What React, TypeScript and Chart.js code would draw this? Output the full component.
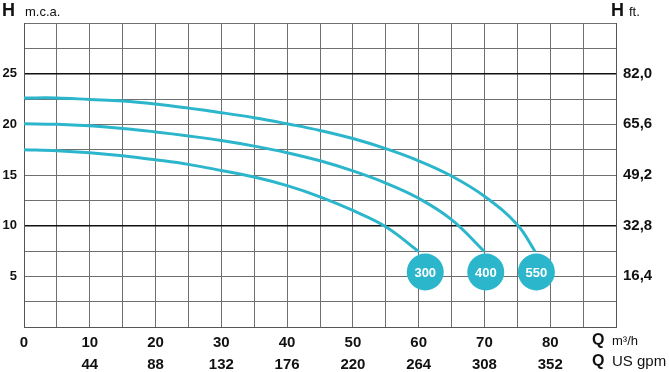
import React, { useEffect, useRef } from "react";
import { Chart, registerables } from "chart.js";

Chart.register(...registerables);

// Flow (m³/h) tick values with their US gpm equivalents
const flowTicks = [0, 10, 20, 30, 40, 50, 60, 70, 80];
const gpmLabels = ["", "44", "88", "132", "176", "220", "264", "308", "352"];
// Head tick values (m.c.a.) and feet equivalents
const headTicks = [5, 10, 15, 20, 25];
const ftLabels = ["16,4", "32,8", "49,2", "65,6", "82,0"];

// Pump curves (Q m³/h, H m)
const q550 = [0, 5, 10, 15, 20, 25, 30, 35, 40, 45, 50, 55, 60, 65, 70, 75, 77.7];
const h550 = [22.6, 22.6, 22.45, 22.3, 22.0, 21.6, 21.15, 20.65, 20.05, 19.4, 18.6, 17.6, 16.4, 14.9, 12.9, 10.1, 7.45];
const q400 = [0, 5, 10, 15, 20, 25, 30, 35, 40, 45, 50, 55, 60, 65, 70];
const h400 = [20.05, 20.0, 19.85, 19.6, 19.25, 18.85, 18.4, 17.85, 17.2, 16.4, 15.4, 14.2, 12.7, 10.6, 7.45];
const q300 = [0, 5, 10, 15, 20, 25, 30, 35, 40, 45, 50, 55, 60];
const h300 = [17.5, 17.4, 17.2, 16.9, 16.5, 16.05, 15.45, 14.8, 13.95, 12.85, 11.5, 9.9, 7.45];

// Model badges
const badgeLabels = ["300", "400", "550"];
const badgeQ = [61, 70.2, 77.9];
const badgeH = [5.43, 5.43, 5.43];

const TEAL = "#2cb6cc";

const zip = (xs: number[], ys: number[]) => xs.map((x, i) => ({ x, y: ys[i] }));

const extraText = {
  id: "extraText",
  afterDraw(chart: any) {
    const ctx = chart.ctx;
    ctx.save();
    ctx.fillStyle = "#111";
    ctx.textBaseline = "alphabetic";
    ctx.textAlign = "left";
    const put = (t: string, x: number, y: number, f: string) => {
      ctx.font = f;
      ctx.fillText(t, x, y);
    };
    put("H", 2, 16, "bold 18px 'Liberation Sans', Arial, sans-serif");
    put("m.c.a.", 25, 16, "13px 'Liberation Sans', Arial, sans-serif");
    put("H", 611, 16, "bold 18px 'Liberation Sans', Arial, sans-serif");
    put("ft.", 629, 16, "13px 'Liberation Sans', Arial, sans-serif");
    put("Q", 592, 345, "bold 16px 'Liberation Sans', Arial, sans-serif");
    put("m³/h", 612, 345, "13px 'Liberation Sans', Arial, sans-serif");
    put("Q", 592, 366, "bold 16px 'Liberation Sans', Arial, sans-serif");
    put("US gpm", 612, 366, "15px 'Liberation Sans', Arial, sans-serif");

    // badge labels
    const meta = chart.getDatasetMeta(3);
    ctx.fillStyle = "#ffffff";
    ctx.textAlign = "center";
    ctx.textBaseline = "middle";
    ctx.font = "bold 13px 'Liberation Sans', Arial, sans-serif";
    meta.data.forEach((pt: any, i: number) => {
      ctx.fillText(badgeLabels[i], pt.x, pt.y + 1);
    });
    ctx.restore();
  },
};

export default function App() {
  const ref = useRef<HTMLCanvasElement | null>(null);

  useEffect(() => {
    if (!ref.current) return;
    const lineDs = (data: any[]) => ({
      type: "line" as const,
      data,
      borderColor: TEAL,
      borderWidth: 3,
      pointRadius: 0,
      fill: false,
      tension: 0.4,
      xAxisID: "x",
      yAxisID: "y",
    });
    const chart = new Chart(ref.current, {
      type: "scatter",
      data: {
        datasets: [
          lineDs(zip(q550, h550)),
          lineDs(zip(q400, h400)),
          lineDs(zip(q300, h300)),
          {
            type: "scatter",
            data: zip(badgeQ, badgeH),
            backgroundColor: TEAL,
            borderWidth: 0,
            pointRadius: 18.5,
            pointHoverRadius: 18.5,
            xAxisID: "x",
            yAxisID: "y",
          } as any,
        ],
      },
      options: {
        responsive: false,
        animation: false,
        events: [],
        layout: { padding: { top: 23, left: 0, right: 0, bottom: 0 } },
        plugins: { legend: { display: false }, tooltip: { enabled: false } },
        scales: {
          x: {
            type: "linear",
            position: "bottom",
            min: 0,
            max: 90,
            afterFit: (s: any) => {
              s.height = 45;
            },
            border: { display: true, color: "#555", width: 1 },
            grid: {
              color: "#6f6f6f",
              lineWidth: 1,
              drawTicks: false,
            },
            ticks: {
              stepSize: 5,
              autoSkip: false,
              maxRotation: 0,
              padding: 5,
              color: "#111",
              font: { family: "'Liberation Sans', Arial, sans-serif", size: 15, weight: "bold", lineHeight: 1.44 },
              callback: (v: any) => {
                const i = flowTicks.indexOf(Number(v));
                if (i < 0) return "";
                return [String(flowTicks[i]), gpmLabels[i]];
              },
            },
          },
          y: {
            type: "linear",
            position: "left",
            min: 0,
            max: 30,
            afterFit: (s: any) => {
              s.width = 24;
            },
            border: { display: true, color: "#555", width: 1 },
            grid: {
              color: (c: any) => (c.tick && (c.tick.value === 10 || c.tick.value === 25) ? "#111" : "#6f6f6f"),
              lineWidth: (c: any) => (c.tick && (c.tick.value === 10 || c.tick.value === 25) ? 1.5 : 1),
              drawTicks: false,
            },
            ticks: {
              stepSize: 2.5,
              autoSkip: false,
              padding: 7,
              color: "#111",
              font: { family: "'Liberation Sans', Arial, sans-serif", size: 13, weight: "bold" },
              callback: (v: any) => (headTicks.includes(Number(v)) ? String(v) : ""),
            },
          },
          y2: {
            type: "linear",
            position: "right",
            min: 0,
            max: 30,
            afterFit: (s: any) => {
              s.width = 53;
            },
            border: { display: true, color: "#555", width: 1 },
            grid: { display: false, drawTicks: false },
            ticks: {
              stepSize: 2.5,
              autoSkip: false,
              padding: 7,
              color: "#111",
              font: { family: "'Liberation Sans', Arial, sans-serif", size: 15, weight: "bold" },
              callback: (v: any) => {
                const i = headTicks.indexOf(Number(v));
                return i < 0 ? "" : ftLabels[i];
              },
            },
          },
        },
      } as any,
      plugins: [extraText],
    });
    return () => chart.destroy();
  }, []);

  return (
    <div style={{ position: "absolute", left: 0, top: 0, width: 669, height: 372, background: "#fff" }}>
      <canvas ref={ref} width={669} height={372} style={{ display: "block" }} />
    </div>
  );
}
